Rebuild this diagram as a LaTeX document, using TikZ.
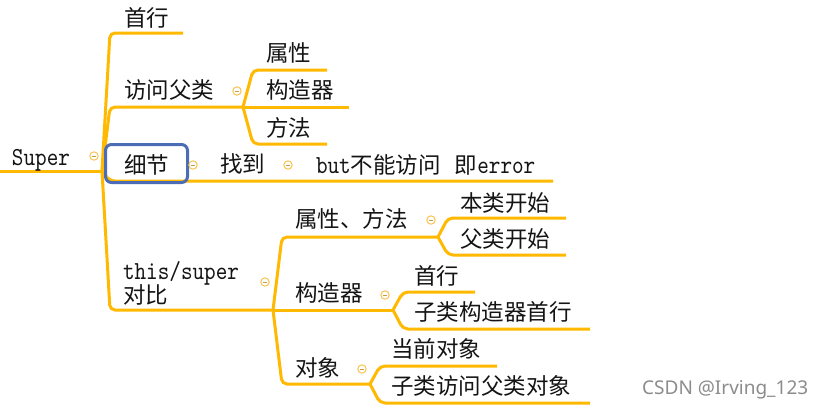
\documentclass[tikz,border=0pt]{standalone}
\usepackage{fontspec}
\setmainfont{Noto Sans CJK SC}
\newfontfamily\latfont[FakeStretch=0.85]{lmmono10-regular.otf}
\newfontfamily\wmfont{Noto Sans}
\newcommand\lat[1]{{\latfont\fontsize{26}{26}\selectfont #1}}
\definecolor{lineor}{RGB}{255,185,0}
\definecolor{minor}{RGB}{250,196,80}
\definecolor{boxblue}{RGB}{76,108,182}
\tikzset{
  br/.style={draw=lineor, line width=3pt, rounded corners=5pt},
  lbl/.style={anchor=base west, inner sep=0pt, outer sep=0pt, font=\fontsize{22.5}{27}\selectfont, text=black!92},
  mn/.pic={\draw[draw=minor, line width=1pt, fill=white] (0,0) circle (4.2pt);
           \draw[draw=minor!80!black, line width=0.9pt] (-2.3pt,0) -- (2.3pt,0);}
}
\begin{document}
\begin{tikzpicture}[x=1pt,y=-1pt]
\useasboundingbox[fill=white] (0,0) rectangle (823,408);
% ---- fork points and line ends
\coordinate (root) at (0,171);
\coordinate (f0) at (102,171);
\coordinate (a1) at (110,33);  \coordinate (a1e) at (183,33);
\coordinate (a2) at (110,107); \coordinate (f1) at (243,107);
\coordinate (a3) at (110,181); \coordinate (a3e) at (553,181);
\coordinate (a4) at (110,310); \coordinate (f2) at (273,310);
\coordinate (b1) at (253,70);  \coordinate (b1e) at (327,70);
\coordinate (b2e) at (349,107);
\coordinate (b3) at (253,144); \coordinate (b3e) at (327,144);
\coordinate (c1) at (282,237); \coordinate (f3) at (438,237);
\coordinate (f4) at (393,310);
\coordinate (c3) at (282,384); \coordinate (f5) at (370,384);
\coordinate (d1) at (448,218); \coordinate (d1e) at (566,218);
\coordinate (d2) at (448,255); \coordinate (d2e) at (566,255);
\coordinate (e1) at (403,292); \coordinate (e1e) at (475,292);
\coordinate (e2) at (403,329); \coordinate (e2e) at (590,329);
\coordinate (g1) at (380,366); \coordinate (g1e) at (497,366);
\coordinate (g2) at (380,403); \coordinate (g2e) at (590,403);
% ---- connectors
\draw[br] (root) -- (f0);
\draw[br] (f0) -- (a1) -- (a1e);
\draw[br] (f0) -- (a2) -- (f1);
\draw[br] (f0) -- (a3) -- (a3e);
\draw[br] (f0) -- (a4) -- (f2);
\draw[br] (f1) -- (b1) -- (b1e);
\draw[br] (f1) -- (b2e);
\draw[br] (f1) -- (b3) -- (b3e);
\draw[br] (f2) -- (c1) -- (f3);
\draw[br] (f2) -- (f4);
\draw[br] (f2) -- (c3) -- (f5);
\draw[br] (f3) -- (d1) -- (d1e);
\draw[br] (f3) -- (d2) -- (d2e);
\draw[br] (f4) -- (e1) -- (e1e);
\draw[br] (f4) -- (e2) -- (e2e);
\draw[br] (f5) -- (g1) -- (g1e);
\draw[br] (f5) -- (g2) -- (g2e);
% ---- highlight box
\draw[draw=boxblue, line width=3pt, rounded corners=6pt] (105.5,144.5) rectangle (187.5,182.5);
% ---- labels
\node[lbl] (super) at (12,165) {\lat{Super}};
\node[lbl] (n1) at (124,26) {首行};
\node[lbl] (n2) at (124,98.5) {访问父类};
\node[lbl] (n21) at (266,61.5) {属性};
\node[lbl] (n22) at (266,98.5) {构造器};
\node[lbl] (n23) at (266,136) {方法};
\node[lbl] (n3) at (124,173) {细节};
\node[lbl] (n31) at (220,172.5) {找到};
\node[lbl] (n32) at (316,173) {\lat{but}不能访问\hspace{14pt}即\lat{error}};
\node[lbl] (n4a) at (123,279.5) {\lat{this/super}};
\node[lbl] (n4b) at (123,303.5) {对比};
\node[lbl] (n41) at (295,227.5) {属性、方法};
\node[lbl] (n411) at (460,211) {本类开始};
\node[lbl] (n412) at (460,247.5) {父类开始};
\node[lbl] (n42) at (295,301.5) {构造器};
\node[lbl] (n421) at (414,284.5) {首行};
\node[lbl] (n422) at (414,320.5) {子类构造器首行};
\node[lbl] (n43) at (295,376.5) {对象};
\node[lbl] (n431) at (391,357.5) {当前对象};
\node[lbl] (n432) at (391,394.5) {子类访问父类对象};
% ---- collapse markers
\pic at (94,156) {mn};
\pic at (237,91) {mn};
\pic at (193,165) {mn};
\pic at (288,165) {mn};
\pic at (265,282) {mn};
\pic at (431,220) {mn};
\pic at (385,295) {mn};
\pic at (362,369) {mn};
% ---- watermark
\node[anchor=base west, inner sep=0pt, font=\wmfont\fontsize{19}{19}\selectfont, text=black!45] (wm) at (642,394) {CSDN @Irving\_123};
\end{tikzpicture}
\end{document}
